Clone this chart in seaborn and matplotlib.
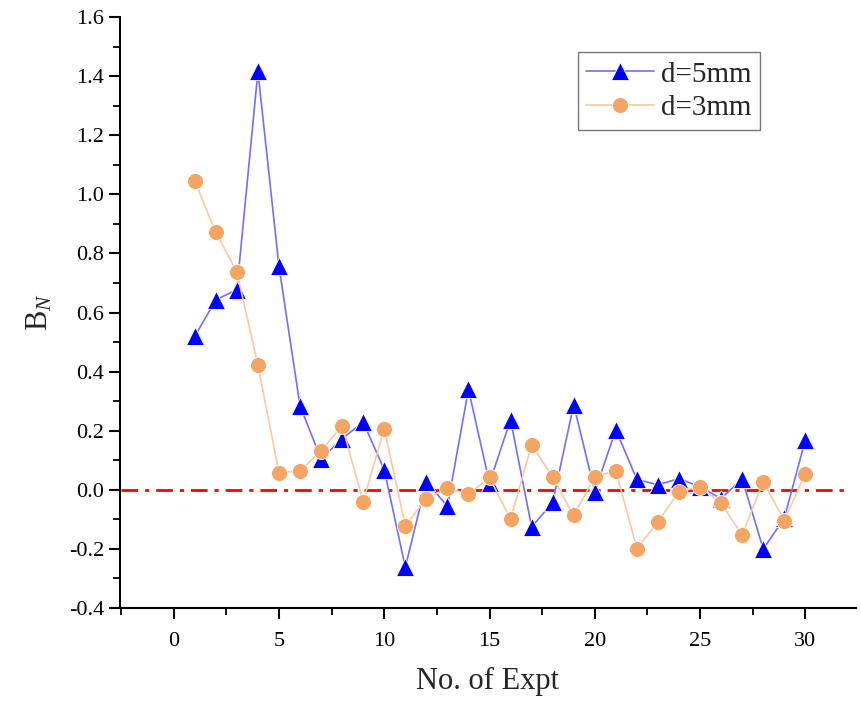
import numpy as np
import pandas as pd
import seaborn as sns
import matplotlib
matplotlib.use("Agg")
import matplotlib.pyplot as plt
from matplotlib.ticker import MultipleLocator

expt = list(range(1, 31))
bn_5mm = [0.519, 0.643, 0.677, 1.416, 0.756, 0.284, 0.104, 0.173, 0.229, 0.068,
          -0.262, 0.028, -0.056, 0.340, 0.023, 0.237, -0.126, -0.043, 0.288, -0.006,
          0.203, 0.035, 0.017, 0.038, 0.010, -0.030, 0.037, -0.200, -0.097, 0.169]
bn_3mm = [1.045, 0.871, 0.737, 0.422, 0.058, 0.064, 0.132, 0.217, -0.040, 0.207,
          -0.121, -0.030, 0.006, -0.015, 0.042, -0.100, 0.152, 0.043, -0.087, 0.044,
          0.065, -0.199, -0.108, -0.007, 0.011, -0.045, -0.153, 0.028, -0.104, 0.054]
labels = ["d=5mm", "d=3mm"]

sns.set_theme(style="ticks")
plt.rcParams['font.family'] = ['Liberation Serif', 'DejaVu Serif']
plt.rcParams['mathtext.fontset'] = 'custom'
plt.rcParams['mathtext.rm'] = 'Liberation Serif'
plt.rcParams['mathtext.it'] = 'Liberation Serif:italic'

df5 = pd.DataFrame({"x": expt, "y": bn_5mm})
df3 = pd.DataFrame({"x": expt, "y": bn_3mm})

fig = plt.figure(figsize=(8.61, 7.01), dpi=100)
ax = fig.add_axes([0.1394, 0.1327, 0.8546, 0.843])

ax.plot([-2.5, 32.0], [0, 0], color="red", lw=2, ls=(0, (6, 2.5, 1.5, 2.5)), zorder=1)

sns.lineplot(data=df5, x="x", y="y", ax=ax, color="#6f6fff", lw=1.2,
             marker="^", markersize=12.5, markerfacecolor="#0000ff",
             markeredgecolor="white", markeredgewidth=0.6, label=labels[0], zorder=2)
sns.lineplot(data=df3, x="x", y="y", ax=ax, color="#f9c9a2", lw=1.2,
             marker="o", markersize=11.5, markerfacecolor="#f4a564",
             markeredgecolor="white", markeredgewidth=0.6, label=labels[1], zorder=3)

ax.set_xlim(-2.55, 32.4)
ax.set_ylim(-0.4, 1.6)
ax.xaxis.set_major_locator(MultipleLocator(5))
ax.xaxis.set_minor_locator(MultipleLocator(2.5))
ax.yaxis.set_major_locator(MultipleLocator(0.2))
ax.yaxis.set_minor_locator(MultipleLocator(0.1))
ax.yaxis.set_major_formatter(matplotlib.ticker.FormatStrFormatter('%.1f'))

for s in ["top", "right"]:
    ax.spines[s].set_visible(False)
for s in ["left", "bottom"]:
    ax.spines[s].set_linewidth(1.5)
    ax.spines[s].set_color("black")
ax.tick_params(which="major", direction="out", length=8, width=1.5, labelsize=16, colors="black")
ax.tick_params(axis="x", which="major", pad=9)
ax.tick_params(which="minor", direction="out", length=5, width=1.3, colors="black")

ax.set_xlabel("No. of Expt", fontsize=22, labelpad=12)
ax.set_ylabel(r"B$_{N}$", fontsize=22, labelpad=10)

leg = ax.legend(loc="upper left", bbox_to_anchor=(0.622, 0.94), fontsize=21,
                frameon=True, fancybox=False, edgecolor="#555555", handlelength=2.3,
                handletextpad=0.25, borderpad=0.3, labelspacing=0.25, borderaxespad=0)
leg.get_frame().set_linewidth(1.0)

fig.savefig("out.png", dpi=100)
